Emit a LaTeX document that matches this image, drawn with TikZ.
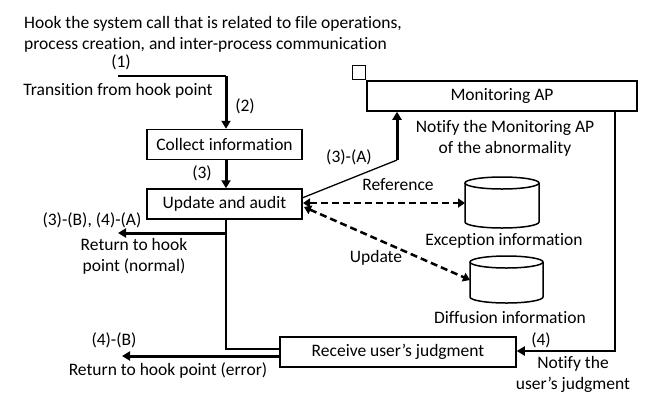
\documentclass[tikz,border=0pt]{standalone}
\usepackage{fontspec}
\setmainfont{Carlito}[Ligatures=NoCommon]
\usetikzlibrary{arrows.meta}
\begin{document}
\begin{tikzpicture}[x=1pt,y=-1pt,
  every node/.style={font=\fontsize{17.5}{21}\selectfont, inner sep=0pt},
  box/.style={draw, line width=1.5pt, minimum height=30pt},
  lbl/.style={align=center},
  thin/.style={line width=1.3pt},
  thick arrow/.style={line width=3pt, -{Triangle[length=8pt,width=9pt]}},
  dasharrow/.style={line width=2.5pt, dash pattern=on 7pt off 4pt, {Triangle[length=7pt,width=9pt]}-{Triangle[length=7pt,width=9pt]}},
  cyl/.style={draw, line width=1.5pt, fill=white}
]
\useasboundingbox (0,0) rectangle (648,392);

% heading
\node[anchor=west, align=left] (head) at (24,34.5) {Hook the system call that is related to file operations,\\process creation, and inter-process communication};

% boxes
\node[box, minimum width=155pt] (collect) at (224.5,144.5) {Collect information};
\node[box, minimum width=155pt] (update) at (224.5,204) {Update and audit};
\node[box, minimum width=270pt] (monitor) at (502,96) {Monitoring AP};
\node[box, minimum width=236pt] (receive) at (398,352) {Receive user’s judgment};
\node[draw, line width=1.3pt, minimum width=13pt, minimum height=14pt, anchor=south east] (sq) at (monitor.north west) {};

% step (1)-(2)
\coordinate (start) at (118,76);
\coordinate (corner) at (226,76);
\node (l1) at (121,62) {(1)};
\node (trans) at (118,91) {Transition from hook point};
\draw[thin] (start) -- (corner);
\draw[thick arrow] (corner) -- (collect.north -| corner);
\node (l2) at (245,106) {(2)};

% (3)
\draw[thick arrow] (collect.south -| corner) -- (update.north -| corner);
\node (l3) at (202,173) {(3)};

% (3)-(A)
\coordinate (ua) at (302,198);
\coordinate (bend) at (397,160);
\draw[thin] (ua) -- (bend);
\draw[thick arrow] (bend) -- (monitor.south -| bend);
\node (l3a) at (349,157) {(3)-(A)};
\node[lbl] (notify) at (505,138) {Notify the Monitoring AP\\of the abnormality};

% (3)-(B),(4)-(A)
\coordinate (ub) at (226,233);
\coordinate (rnorm) at (118,233);
\draw[thick arrow] (ub) -- (rnorm);
\node (l3b) at (92,220) {(3)-(B), (4)-(A)};
\node[lbl] (retnorm) at (134,256) {Return to hook\\point (normal)};

% line down to receive
\coordinate (dn) at (226,349);
\draw[thin] (update.south -| corner) -- (dn) -- (dn -| receive.west);

% (4)-(B)
\coordinate (rerr) at (122,356);
\draw[thick arrow] (receive.west |- rerr) -- (rerr);
\node (l4b) at (114,340) {(4)-(B)};
\node (reterr) at (168,371) {Return to hook point (error)};

% right line
\coordinate (rtop) at (615,111);
\coordinate (rbot) at (615,351);
\draw[line width=2pt, -{Triangle[length=8pt,width=9pt]}] (rtop) -- (rbot) -- (rbot -| receive.east);
\node (l4) at (541,340) {(4)};
\node[lbl] (notuser) at (573,374) {Notify the\\user’s judgment};

% cylinders
\draw[cyl] (465,183) -- (465,222) arc[start angle=180, end angle=360, x radius=37pt, y radius=6pt] -- (539,183);
\draw[cyl] (502,183) ellipse[x radius=37pt, y radius=6pt];
\coordinate (exc) at (465,203);
\node (exclbl) at (504,241) {Exception information};

\draw[cyl] (470,262) -- (470,297) arc[start angle=180, end angle=360, x radius=36.5pt, y radius=6pt] -- (543,262);
\draw[cyl] (506.5,262) ellipse[x radius=36.5pt, y radius=6pt];
\coordinate (dif) at (470,280);
\node (diflbl) at (510,318) {Diffusion information};

% dashed
\coordinate (ud1) at (303,203);
\coordinate (ud2) at (304,207);
\draw[dasharrow] (ud1) -- (exc);
\draw[dasharrow] (ud2) -- (dif);
\node (ref) at (398,185) {Reference};
\node (upd) at (376,258) {Update};
\end{tikzpicture}
\end{document}
